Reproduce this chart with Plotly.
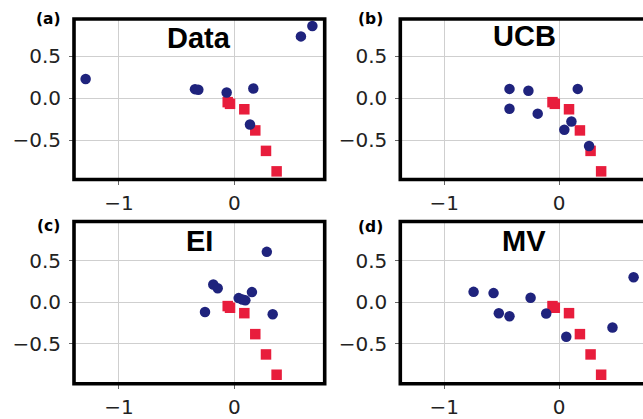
import plotly.graph_objects as go

W, H = 643, 419

# ---- data ----
panel_labels = ["(a)", "(b)", "(c)", "(d)"]
panel_titles = ["Data", "UCB", "EI", "MV"]

target_x = [-0.057, -0.037, 0.087, 0.182, 0.275, 0.367]
target_y = [-0.045, -0.065, -0.130, -0.382, -0.626, -0.870]

data_x = [-1.289, -0.341, -0.312, -0.066, 0.165, 0.136, 0.578, 0.677]
data_y = [0.231, 0.110, 0.102, 0.071, 0.118, -0.311, 0.739, 0.862]

ucb_x = [-0.432, -0.267, 0.163, -0.432, -0.186, 0.108, 0.046, 0.262]
ucb_y = [0.113, 0.090, 0.113, -0.123, -0.182, -0.276, -0.374, -0.567]

ei_x = [0.282, -0.182, -0.144, -0.254, 0.153, 0.038, 0.070, 0.096, 0.333]
ei_y = [0.607, 0.214, 0.170, -0.115, 0.123, 0.051, 0.035, 0.024, -0.143]

mv_x = [-0.745, -0.571, -0.525, -0.432, -0.248, -0.112, 0.063, 0.466, 0.650]
mv_y = [0.126, 0.111, -0.131, -0.167, 0.055, -0.135, -0.413, -0.302, 0.301]

x_ticks = [-1, 0]
x_ticktext = ["\u22121", "0"]
y_ticks = [-0.5, 0.0, 0.5]
y_ticktext = ["\u22120.5", "0.0", "0.5"]

BLUE = "#1f237d"
RED = "#e81d3c"

# ---- layout geometry (pixels) ----
def px_x(p):
    return p / W

def px_y(p):
    return 1 - p / H

# (left, right, top, bottom) in pixels; right panels run off the page
boxes = [
    (74.0, 324.7, 19.2, 181.3),
    (400.3, 643.0, 19.2, 181.3),
    (74.0, 324.7, 223.7, 387.5),
    (400.3, 643.0, 223.7, 387.5),
]
xranges = [[-1.390, 0.784], [-1.384, 0.732], [-1.390, 0.784], [-1.384, 0.732]]
yranges = [[-0.968, 0.946], [-0.968, 0.946], [-0.979, 0.971], [-0.979, 0.971]]
# fraction of axes domain to extend border past right edge (clipped by page)
border_x1 = [1.0, 1.03, 1.0, 1.03]

series = [(data_x, data_y), (ucb_x, ucb_y), (ei_x, ei_y), (mv_x, mv_y)]

fig = go.Figure()
for i, (bx, by) in enumerate(series):
    xa = "x" if i == 0 else f"x{i+1}"
    ya = "y" if i == 0 else f"y{i+1}"
    fig.add_trace(go.Scatter(
        x=target_x, y=target_y, mode="markers", xaxis=xa, yaxis=ya,
        marker=dict(symbol="square", size=10.5, color=RED, line=dict(width=0)),
        showlegend=False, hoverinfo="skip", cliponaxis=False))
    fig.add_trace(go.Scatter(
        x=bx, y=by, mode="markers", xaxis=xa, yaxis=ya,
        marker=dict(symbol="circle", size=10.5, color=BLUE, line=dict(width=0)),
        showlegend=False, hoverinfo="skip", cliponaxis=False))

layout = dict(
    width=W, height=H,
    margin=dict(l=0, r=0, t=0, b=0),
    paper_bgcolor="white", plot_bgcolor="white",
    font=dict(family="DejaVu Sans", color="#222"),
)

shapes = []
annotations = []
for i, (l, r, t, b) in enumerate(boxes):
    k = "" if i == 0 else str(i + 1)
    xa_name, ya_name = f"xaxis{k}", f"yaxis{k}"
    layout[xa_name] = dict(
        domain=[px_x(l), px_x(r)], range=xranges[i], anchor=f"y{k}",
        tickvals=x_ticks, ticktext=x_ticktext,
        showgrid=True, gridcolor="#cfcfcf", gridwidth=1,
        zeroline=False, showline=False,
        ticks="outside", ticklen=4, tickwidth=1, tickcolor="#666",
        ticklabelstandoff=1,
        tickfont=dict(family="DejaVu Sans", size=20, color="#222"),
        fixedrange=True,
    )
    layout[ya_name] = dict(
        domain=[px_y(b), px_y(t)], range=yranges[i], anchor=f"x{k}",
        tickvals=y_ticks, ticktext=y_ticktext,
        showgrid=True, gridcolor="#cfcfcf", gridwidth=1,
        zeroline=False, showline=False,
        ticks="outside", ticklen=4, tickwidth=1, tickcolor="#666",
        ticklabelstandoff=4,
        tickfont=dict(family="DejaVu Sans", size=20, color="#222"),
        fixedrange=True,
    )
    shapes.append(dict(
        type="rect", xref=f"x{k} domain", yref=f"y{k} domain",
        x0=0, x1=border_x1[i], y0=0, y1=1,
        line=dict(color="black", width=3.6), fillcolor="rgba(0,0,0,0)",
        layer="above"))

# titles inside axes and panel letters
title_pos = [(199.4, 38.0), (524.5, 36.5), (199.0, 243.5), (524.0, 243.3)]
label_pos = [(48.7, 19.0), (370.0, 19.5), (48.3, 228.0), (371.0, 228.8)]
for i in range(4):
    tx, ty = title_pos[i]
    annotations.append(dict(
        text=f"<b>{panel_titles[i]}</b>", x=px_x(tx), y=px_y(ty),
        xref="paper", yref="paper", xanchor="center", yanchor="middle",
        showarrow=False,
        font=dict(family="Liberation Sans", size=29, color="black")))
    lx, ly = label_pos[i]
    annotations.append(dict(
        text=f"<b>{panel_labels[i]}</b>", x=px_x(lx), y=px_y(ly),
        xref="paper", yref="paper", xanchor="center", yanchor="middle",
        showarrow=False,
        font=dict(family="DejaVu Sans", size=15.5, color="black")))

layout["shapes"] = shapes
layout["annotations"] = annotations
fig.update_layout(**layout)

fig.write_html(
    "out.html",
    config={"displayModeBar": False},
    post_script="document.body.style.margin='0';"
                "document.body.style.overflow='hidden';",
)
